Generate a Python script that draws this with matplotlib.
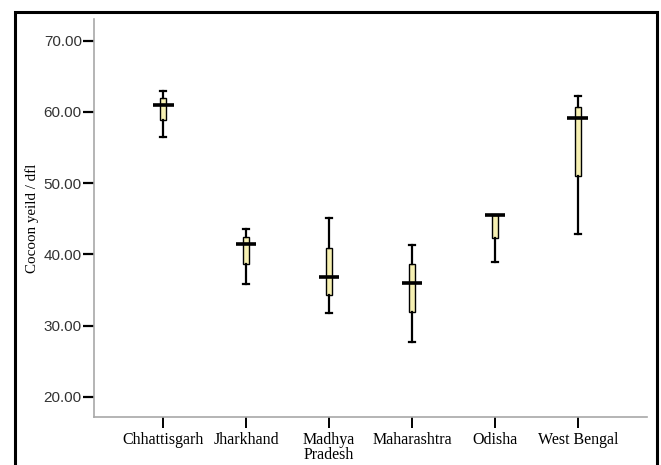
import matplotlib
matplotlib.use("Agg")
import matplotlib.pyplot as plt
from matplotlib.patches import Rectangle

# summary values (cocoon yield per dfl)
states = ["Chhattisgarh", "Jharkhand", "Madhya\nPradesh", "Maharashtra", "Odisha", "West Bengal"]
whisk_lo = [56.5, 35.9, 31.8, 27.7, 38.95, 42.85]
q1 = [58.8, 38.6, 34.3, 31.85, 42.25, 51.05]
medians = [60.9, 41.4, 36.85, 36.0, 45.5, 59.1]
q3 = [62.0, 42.4, 40.9, 38.6, 45.5, 60.65]
whisk_hi = [62.98, 43.55, 45.1, 41.35, 45.5, 62.2]
yticks = [20, 30, 40, 50, 60, 70]

fig = plt.figure(figsize=(6.61, 4.65), dpi=100)
ax = fig.add_axes([94.3 / 661, 1 - 416.7 / 465, (646.7 - 94.3) / 661, (416.7 - 19.3) / 465])

stats = []
for i in range(len(states)):
    stats.append(dict(med=medians[i], q1=q1[i], q3=q3[i],
                      whislo=whisk_lo[i], whishi=whisk_hi[i], fliers=[]))

pos = list(range(1, len(states) + 1))
ax.bxp(stats, positions=pos, widths=0.07, capwidths=0.08, patch_artist=True,
       showfliers=False,
       boxprops=dict(facecolor="#f6f0b2", edgecolor="black", linewidth=1.0),
       whiskerprops=dict(color="black", linewidth=1.6),
       capprops=dict(color="black", linewidth=1.6),
       medianprops=dict(linewidth=0))
# SPSS style wide median bar
ax.hlines(medians, [p - 0.125 for p in pos], [p + 0.125 for p in pos],
          colors="black", linewidth=2.6, zorder=5)

ax.set_xlim(0.17, 6.83)
ax.set_ylim(17.2, 73.0)
ax.set_yticks(yticks)
ax.set_yticklabels(["%.2f" % v for v in yticks], family="Liberation Sans",
                   fontsize=11, color="#333333")
ax.set_xticks(pos)
ax.set_xticklabels(states, family="Liberation Serif", fontsize=11.5,
                   linespacing=0.95)
ax.set_ylabel("Cocoon yeild / dfl", family="Liberation Serif", fontsize=10.8)
ax.yaxis.set_label_coords(-0.100, 0.5)

for s in ["top", "right"]:
    ax.spines[s].set_visible(False)
for s in ["left", "bottom"]:
    ax.spines[s].set_color("#a8a8a8")
    ax.spines[s].set_linewidth(1.2)
ax.tick_params(axis="y", length=8, width=1.6, color="black", pad=1)
ax.tick_params(axis="x", length=8, width=1.4, color="black", pad=3)

# outer frame of the figure (bottom edge falls off the image)
fig.patches.append(Rectangle((15 / 661, -0.05), (657 - 15) / 661, 1.05 - 11.7 / 465,
                             transform=fig.transFigure, fill=False,
                             edgecolor="black", linewidth=2.2))

fig.savefig("out.png", dpi=100)
